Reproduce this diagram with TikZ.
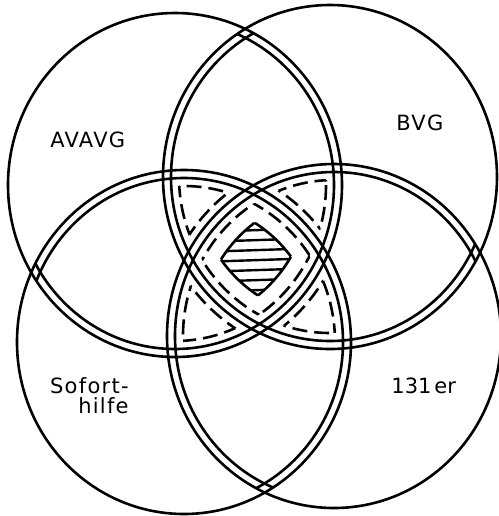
\documentclass[tikz,border=0pt]{standalone}
\usepackage{fontspec}
\setmainfont{DejaVu Sans}
\newfontfamily\lblfont[LetterSpace=6]{DejaVu Sans}
\usetikzlibrary{positioning}

\newcommand{\radx}{167}
\newcommand{\rady}{172}
% ellipse of a set, widened (+) or narrowed (-) by #2
\newcommand{\ring}[2]{(#1) ellipse [x radius={\radx+(#2)}, y radius={\rady+(#2)}]}

% second line of a circle where it runs inside the others
\newcommand{\dblline}[4]{%
  \begin{scope}
    \clip \ring{#2}{0} \ring{#3}{0} \ring{#4}{0};
    \draw[ln] \ring{#1}{-8};
  \end{scope}}

% dashed side of a region lying inside #1, #2, #3 and outside #4
\newcommand{\dshin}[4]{%
  \begin{scope}
    \clip \ring{#2}{-16};
    \clip \ring{#3}{-16};
    \begin{scope}[even odd rule]
      \clip (-50,-50) rectangle (550,570) \ring{#4}{8};
      \draw[dln] \ring{#1}{-16};
    \end{scope}
  \end{scope}}
\newcommand{\dshout}[4]{%
  \begin{scope}
    \clip \ring{#2}{-16};
    \clip \ring{#3}{-16};
    \clip \ring{#4}{-16};
    \draw[dln] \ring{#1}{8};
  \end{scope}}
\newcommand{\threeway}[4]{%
  \dshin{#1}{#2}{#3}{#4}\dshin{#2}{#1}{#3}{#4}%
  \dshin{#3}{#1}{#2}{#4}\dshout{#4}{#1}{#2}{#3}}

% side of the region inside all four, narrowed by #5
\newcommand{\fourside}[6]{%
  \begin{scope}
    \clip \ring{#2}{#5};
    \clip \ring{#3}{#5};
    \clip \ring{#4}{#5};
    \draw[#6] \ring{#1}{#5};
  \end{scope}}

\begin{document}
\begin{tikzpicture}[
  x=0.5pt, y=-0.5pt,
  ln/.style={line width=1.3pt},
  dln/.style={line width=1.3pt, dash pattern=on 7.5pt off 3.5pt},
  hln/.style={line width=1.2pt},
  lbl/.style={font=\fontsize{10.5}{10}\lblfont, inner sep=0pt, anchor=base west},
]
\useasboundingbox (0,0) rectangle (499,516);

%% ===== Centres =====
\coordinate (avavg) at (175,185);
\coordinate (bvg) at (330,177);
\coordinate (sofort) at (184,342);
\coordinate (er) at (334,336);

%% ===== Circles =====
\foreach \c in {avavg,bvg,sofort,er}
  \draw[ln] \ring{\c}{0};

\dblline{avavg}{bvg}{sofort}{er}
\dblline{bvg}{avavg}{sofort}{er}
\dblline{sofort}{avavg}{bvg}{er}
\dblline{er}{avavg}{bvg}{sofort}

%% ===== Three-fold overlaps =====
\threeway{avavg}{bvg}{sofort}{er}
\threeway{avavg}{bvg}{er}{sofort}
\threeway{avavg}{sofort}{er}{bvg}
\threeway{bvg}{sofort}{er}{avavg}

%% ===== Four-fold overlap =====
\fourside{avavg}{bvg}{sofort}{er}{-16}{dln}
\fourside{bvg}{avavg}{sofort}{er}{-16}{dln}
\fourside{sofort}{avavg}{bvg}{er}{-16}{dln}
\fourside{er}{avavg}{bvg}{sofort}{-16}{dln}

\fourside{avavg}{bvg}{sofort}{er}{-32}{ln}
\fourside{bvg}{avavg}{sofort}{er}{-32}{ln}
\fourside{sofort}{avavg}{bvg}{er}{-32}{ln}
\fourside{er}{avavg}{bvg}{sofort}{-32}{ln}

\begin{scope}
  \clip \ring{avavg}{-32};
  \clip \ring{bvg}{-32};
  \clip \ring{sofort}{-32};
  \clip \ring{er}{-32};
  \foreach \y in {230,240,...,290}
    \draw[hln] (200,\y+2) -- (320,\y-2);
\end{scope}

%% ===== Labels =====
\node[lbl] (lavavg) at (50,147) {AVAVG};
\node[lbl] (lbvg) at (396,130) {BVG};
\node[lbl, align=right, anchor=base east] (lsofort) at (129,413) {Sofort-\\hilfe};
\node[lbl, font=\fontsize{10.5}{10}\selectfont] (ler) at (391,393) {131\kern1.5pt er};

\end{tikzpicture}
\end{document}
